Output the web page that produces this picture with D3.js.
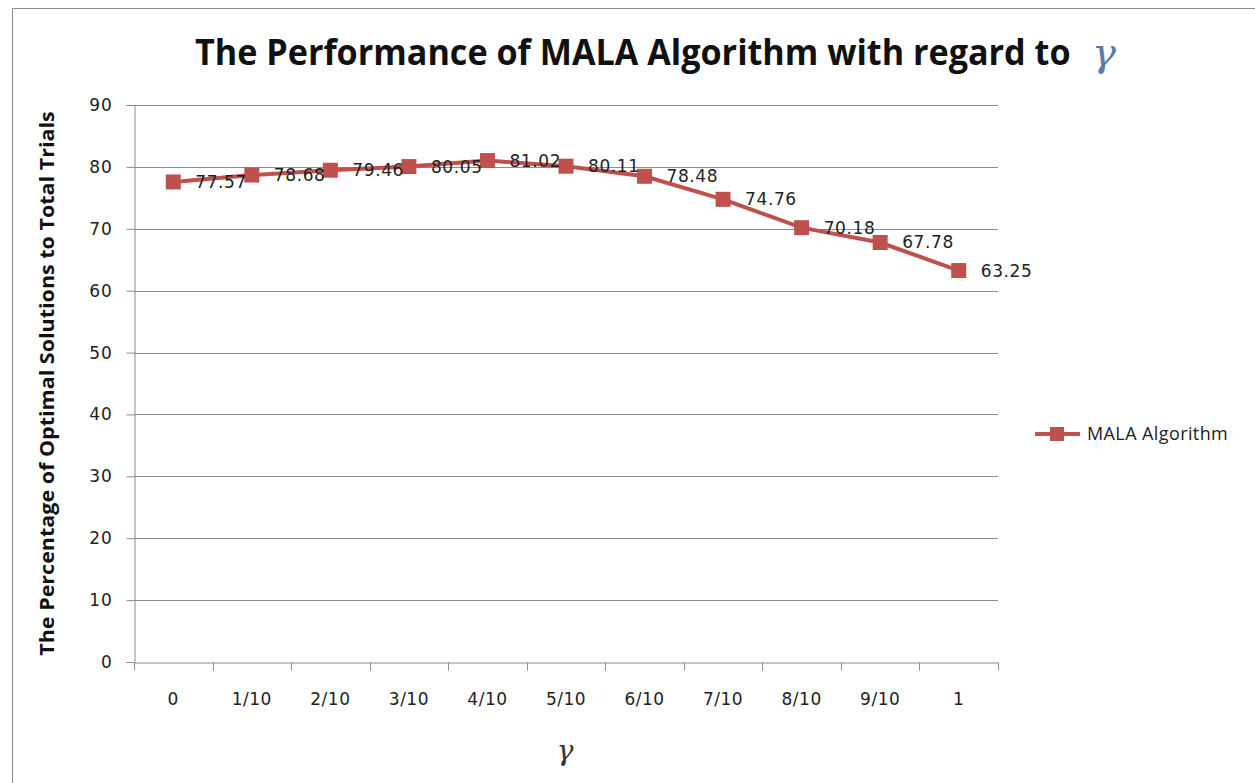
<!DOCTYPE html>
<html>
<head>
<meta charset="utf-8">
<script src="https://cdn.jsdelivr.net/npm/d3@7"></script>
<style>
  body { margin: 0; background: #fff; }
  svg { display: block; }
</style>
</head>
<body>
<div id="chart"></div>
<script>
// Chart data
const categories = ['0', '1/10', '2/10', '3/10', '4/10', '5/10', '6/10', '7/10', '8/10', '9/10', '1'];
const values = [77.57, 78.68, 79.46, 80.05, 81.02, 80.11, 78.48, 74.76, 70.18, 67.78, 63.25];
const yTicks = [0, 10, 20, 30, 40, 50, 60, 70, 80, 90];
const seriesName = 'MALA Algorithm';

const W = 1255, H = 783;
const margin = { top: 105, right: 257, bottom: 121, left: 134 };
const width = W - margin.left - margin.right;
const height = H - margin.top - margin.bottom;
const red = '#c0504d';
const textColor = '#222';
const numFont = '"DejaVu Sans", Verdana, sans-serif';

const svg = d3.select('#chart').append('svg')
  .attr('width', W)
  .attr('height', H);

// squeeze a text horizontally to a target width (Excel-like condensed look)
function fitWidth(sel, target, tx, ty, rotate) {
  const w = sel.node().getComputedTextLength();
  const s = target / w;
  sel.attr('transform', rotate
    ? `translate(${tx},${ty}) rotate(-90) scale(${s},1)`
    : `translate(${tx},${ty}) scale(${s},1)`);
}

// chart frame
svg.append('path')
  .attr('d', `M12.5,${H} L12.5,8.5 L${W},8.5`)
  .attr('fill', 'none')
  .attr('stroke', '#8c8c8c');

const g = svg.append('g')
  .attr('transform', `translate(${margin.left},${margin.top})`);

// Scales
const x = d3.scaleBand()
  .domain(categories)
  .range([0, width]);

const y = d3.scaleLinear()
  .domain([0, 90])
  .range([height, 0]);

// Gridlines
g.append('g')
  .selectAll('line')
  .data(yTicks.filter(d => d > 0))
  .enter()
  .append('line')
  .attr('x1', 0)
  .attr('x2', width)
  .attr('y1', d => Math.round(y(d)) + 0.5)
  .attr('y2', d => Math.round(y(d)) + 0.5)
  .attr('stroke', '#8c8c8c');

// Y axis
const yAxis = g.append('g')
  .attr('transform', 'translate(0.5,0)')
  .call(d3.axisLeft(y).tickValues(yTicks).tickSize(8).tickPadding(14));
yAxis.select('.domain').attr('stroke', '#8c8c8c');
yAxis.selectAll('.tick line').attr('stroke', '#8c8c8c');
yAxis.selectAll('text')
  .style('font-family', numFont)
  .style('font-size', '17px')
  .style('letter-spacing', '0.8px')
  .attr('fill', textColor);

// X axis
const xAxis = g.append('g')
  .attr('transform', `translate(0,${Math.round(height) + 0.5})`)
  .call(d3.axisBottom(x).tickSize(0).tickPadding(30));
xAxis.select('.domain').attr('stroke', '#8c8c8c');
xAxis.selectAll('text')
  .style('font-family', numFont)
  .style('font-size', '17px')
  .style('letter-spacing', '0.5px')
  .attr('fill', textColor);

// category boundary ticks
xAxis.selectAll('.bound')
  .data(d3.range(categories.length + 1))
  .enter()
  .append('line')
  .attr('class', 'bound')
  .attr('x1', i => Math.round(i * x.step()) + 0.5)
  .attr('x2', i => Math.round(i * x.step()) + 0.5)
  .attr('y1', 0)
  .attr('y2', 8)
  .attr('stroke', '#8c8c8c');

const cx = d => x(d.cat) + x.bandwidth() / 2;
const points = categories.map((c, i) => ({ cat: c, value: values[i] }));

// Line
const line = d3.line()
  .x(cx)
  .y(d => y(d.value));

g.append('path')
  .datum(points)
  .attr('fill', 'none')
  .attr('stroke', red)
  .attr('stroke-width', 4)
  .attr('d', line);

// Markers
g.selectAll('.marker')
  .data(points)
  .enter()
  .append('rect')
  .attr('class', 'marker')
  .attr('x', d => cx(d) - 7.5)
  .attr('y', d => y(d.value) - 7.5)
  .attr('width', 15)
  .attr('height', 15)
  .attr('fill', red);

// Data labels
g.selectAll('.label')
  .data(points)
  .enter()
  .append('text')
  .attr('class', 'label')
  .attr('x', d => cx(d) + 22)
  .attr('y', d => y(d.value))
  .attr('dy', '0.35em')
  .style('font-family', numFont)
  .style('font-size', '17px')
  .style('letter-spacing', '0.6px')
  .attr('fill', textColor)
  .text(d => d.value.toFixed(2));

// Title
const title = svg.append('text')
  .style('font-family', '"Open Sans", sans-serif')
  .style('font-weight', 'bold')
  .style('font-size', '36px')
  .attr('fill', '#111')
  .text('The Performance of MALA Algorithm with regard to');
fitWidth(title, 876, 195, 65);

svg.append('text')
  .attr('x', 1092)
  .attr('y', 66)
  .style('font-family', '"DejaVu Serif", serif')
  .style('font-style', 'italic')
  .style('font-size', '40px')
  .attr('fill', '#5b7ba5')
  .text('γ');

// Y axis title
const yTitle = svg.append('text')
  .attr('text-anchor', 'middle')
  .style('font-family', '"Open Sans", sans-serif')
  .style('font-weight', 'bold')
  .style('font-size', '19px')
  .attr('fill', '#111')
  .text('The Percentage of Optimal Solutions to Total Trials');
fitWidth(yTitle, 545, 54, margin.top + height / 2, true);

// X axis title
svg.append('text')
  .attr('x', 565)
  .attr('y', 760)
  .attr('text-anchor', 'middle')
  .style('font-family', '"DejaVu Serif", serif')
  .style('font-style', 'italic')
  .style('font-size', '28px')
  .attr('fill', '#333')
  .text('γ');

// Legend
const legend = svg.append('g')
  .attr('transform', 'translate(1035,434)');
legend.append('line')
  .attr('x1', 0).attr('x2', 45)
  .attr('y1', 0).attr('y2', 0)
  .attr('stroke', red)
  .attr('stroke-width', 4);
legend.append('rect')
  .attr('x', 15).attr('y', -7)
  .attr('width', 14).attr('height', 14)
  .attr('fill', red);
legend.append('text')
  .attr('x', 52)
  .attr('y', 0)
  .attr('dy', '0.35em')
  .style('font-family', '"Open Sans", sans-serif')
  .style('font-size', '18px')
  .style('letter-spacing', '0.4px')
  .attr('fill', textColor)
  .text(seriesName);
</script>
</body>
</html>
